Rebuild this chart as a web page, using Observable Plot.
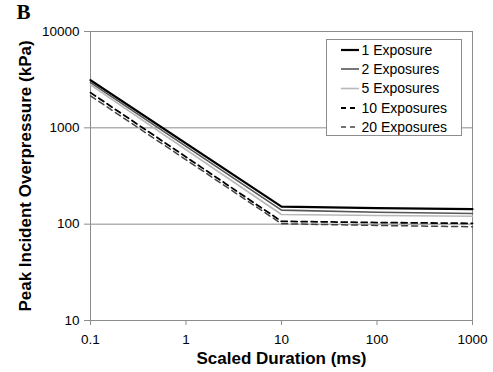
<!DOCTYPE html>
<html>
<head>
<meta charset="utf-8">
<script src="https://cdn.jsdelivr.net/npm/d3@7"></script>
<script src="https://cdn.jsdelivr.net/npm/@observablehq/plot@0.6"></script>
<style>
  html, body { margin: 0; padding: 0; background: #fff; }
</style>
</head>
<body>
<div id="chart"></div>
<script>
// ---- data ----
const durations = [0.1, 10, 100, 1000];
const exp1  = [3120, 152, 147, 143];
const exp2  = [2950, 140, 133, 129];
const exp5  = [2790, 126, 123, 121];
const exp10 = [2320, 107, 104, 102];
const exp20 = [2150, 101, 97, 94];
const seriesNames = ["1 Exposure", "2 Exposures", "5 Exposures", "10 Exposures", "20 Exposures"];
const xTicks = [0.1, 1, 10, 100, 1000];
const yTicks = [10, 100, 1000, 10000];
const gridValues = [100, 1000];
const xLabel = "Scaled Duration (ms)";
const yLabel = "Peak Incident Overpressure (kPa)";
const panelLabel = "B";

// ---- styles ----
const styles = [
  {stroke: "#000000", strokeWidth: 2.2, dash: null},
  {stroke: "#555555", strokeWidth: 1.6, dash: null},
  {stroke: "#b8b8b8", strokeWidth: 1.6, dash: null},
  {stroke: "#000000", strokeWidth: 1.8, dash: "6,4"},
  {stroke: "#444444", strokeWidth: 1.5, dash: "6,4"}
];
const allValues = [exp1, exp2, exp5, exp10, exp20];
const data = [];
allValues.forEach((vals, i) => vals.forEach((v, j) => data.push({series: seriesNames[i], x: durations[j], y: v})));

const gray = "#8c8c8c";

const lineMarks = seriesNames.map((name, i) =>
  Plot.line(data.filter(d => d.series === name), {
    x: "x", y: "y",
    stroke: styles[i].stroke,
    strokeWidth: styles[i].strokeWidth,
    strokeDasharray: styles[i].dash
  })
);

const chart = Plot.plot({
  width: 493,
  height: 372,
  marginLeft: 90,
  marginRight: 21,
  marginTop: 31,
  marginBottom: 52,
  style: {fontFamily: "Liberation Sans, Arial, sans-serif", color: "#000", background: "#fff"},
  x: {type: "log", domain: [0.1, 1000]},
  y: {type: "log", domain: [10, 10000]},
  marks: [
    Plot.ruleY(gridValues, {stroke: gray, strokeWidth: 1}),
    Plot.frame({stroke: gray, strokeWidth: 1}),
    Plot.axisX(xTicks, {tickSize: 5, tickPadding: 9, fontSize: 13.5, label: null, stroke: gray, tickFormat: d => String(d)}),
    Plot.axisY(yTicks, {tickSize: 6, tickPadding: 5, fontSize: 13.5, label: null, stroke: gray, tickFormat: d => String(d)}),
    ...lineMarks,
    Plot.text([xLabel], {frameAnchor: "bottom", dy: 38, textAnchor: "middle", lineAnchor: "middle", fontSize: 17, fontWeight: "bold", fill: "#000"}),
    Plot.text([yLabel], {frameAnchor: "left", dx: -65, rotate: -90, textAnchor: "middle", lineAnchor: "middle", fontSize: 17, fontWeight: "bold", fill: "#000"}),
    Plot.text([panelLabel], {frameAnchor: "top-left", dx: -74, dy: -19, textAnchor: "start", lineAnchor: "middle", fontSize: 21, fontWeight: "bold", fontFamily: "Liberation Serif, Times New Roman, serif", fill: "#000"})
  ]
});

// ---- legend ----
const svg = d3.select(chart);
const lg = svg.append("g").attr("text-anchor", "start");
lg.append("rect").attr("x", 326.5).attr("y", 39.5).attr("width", 135).attr("height", 96)
  .attr("fill", "#fff").attr("stroke", gray).attr("stroke-width", 1);
const rowY = [50, 69, 88.5, 108, 127];
seriesNames.forEach((name, i) => {
  lg.append("line").attr("x1", 341).attr("x2", 359).attr("y1", rowY[i]).attr("y2", rowY[i])
    .attr("stroke", styles[i].stroke).attr("stroke-width", styles[i].strokeWidth)
    .attr("stroke-dasharray", styles[i].dash ? "5,4" : null);
  lg.append("text").attr("x", 361.5).attr("y", rowY[i]).attr("dy", "0.35em")
    .attr("text-anchor", "start")
    .attr("font-size", 14).attr("fill", "#000").text(name);
});

document.getElementById("chart").appendChild(chart);
</script>
</body>
</html>
